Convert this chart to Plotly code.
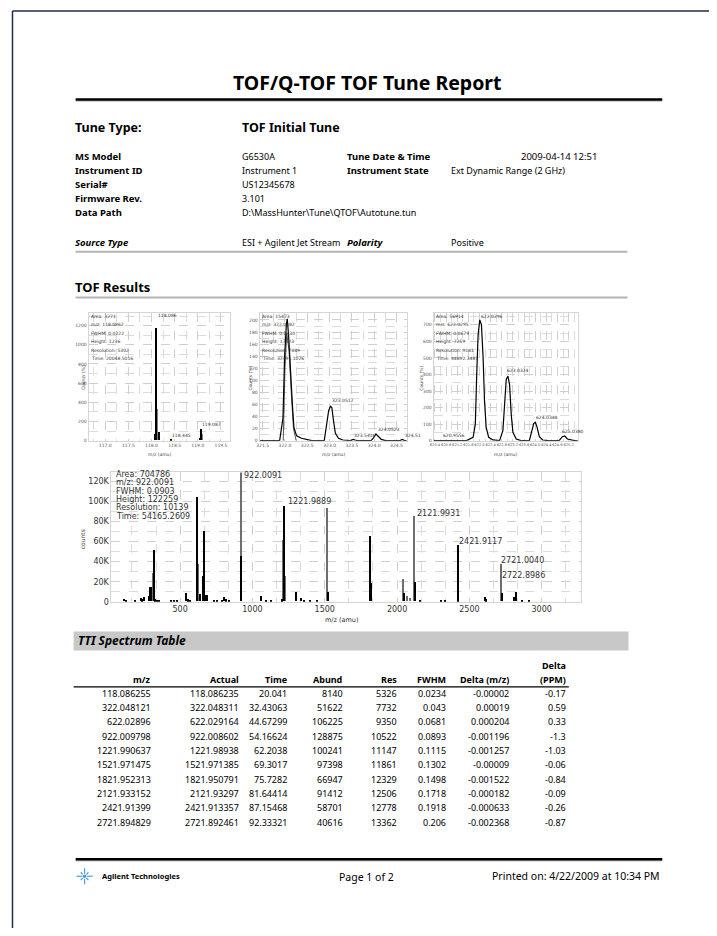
import math
import plotly.graph_objects as go

W, H = 701, 920          # page minus the 8px body margin on each side
OFF = 8
FONT = "Noto Sans"
CFONT = "DejaVu Sans"


def px(x):
    return (x - OFF) / W


def py(y):
    return 1 - (y - OFF) / H


# ---------------- data ----------------
report_title = "TOF/Q-TOF TOF Tune Report"
tune_type = "TOF Initial Tune"
info_labels_left = ["MS Model", "Instrument ID", "Serial#", "Firmware Rev.", "Data Path"]
info_values_left = ["G6530A", "Instrument 1", "US12345678", "3.101",
                    "D:\\MassHunter\\Tune\\QTOF\\Autotune.tun"]
info_labels_right = ["Tune Date & Time", "Instrument State"]
info_values_right = ["2009-04-14 12:51", "Ext Dynamic Range (2 GHz)"]
source_type = "ESI + Agilent Jet Stream"
polarity = "Positive"

# small chart 1 (centroid sticks, m/z 118)
c1_mz_black = [118.065, 118.086, 118.143, 118.42, 119.03, 119.065]
c1_int_black = [70, 1172, 86, 14, 28, 121]
c1_mz_gray = [118.105, 119.085]
c1_int_gray = [328, 69]
c1_yticks = [0, 200, 400, 600, 800, 1000, 1200]
c1_xticks = [117.0, 117.5, 118.0, 118.5, 119.0, 119.5]
c1_info = ["Area: 3271", "m/z: 118.0862", "FWHM: 0.0222", "Height: 1236",
           "Resolution: 5302", "Time: 20048.5016"]
c1_peak_labels = [(118.086, 1305, "118.086"), (118.40, 55, "118.445"), (119.05, 165, "119.087")]

# small chart 2 (profile, m/z 322)
c2_mz = [321.43, 321.88, 321.955, 321.99, 322.03, 322.05, 322.08, 322.12, 322.17, 322.20,
         322.26, 322.37, 322.52, 322.60, 322.88, 322.92, 322.95, 322.98, 323.02, 323.05,
         323.09, 323.13, 323.20, 323.30, 323.47, 323.53, 323.57, 323.62, 323.93, 323.98,
         324.04, 324.10, 324.16, 324.25, 324.58, 324.63, 324.68, 324.73]
c2_int = [0, 0, 38, 137, 192, 202, 175, 110, 55, 22,
          8, 4, 1, 0, 0, 18, 38, 50, 57, 55,
          32, 12, 4, 1, 0, 2, 1, 0, 0, 4,
          11, 6, 2, 0, 0, 2, 0, 0]
c2_mz_b = [321.96, 322.00, 322.04, 322.09, 322.14, 322.19, 322.25]
c2_int_b = [0, 120, 178, 150, 80, 20, 0]
c2_yticks = [0, 20, 40, 60, 80, 100, 120, 140, 160, 180, 200]
c2_xticks = [321.5, 322.0, 322.5, 323.0, 323.5, 324.0, 324.5]
c2_info = ["Area: 15473", "m/z: 322.0482", "FWHM: 0.0430", "Height: 17523",
           "Resolution: 7489", "Time: 32491.1026"]
c2_peak_labels = [(323.0, 66, "323.0512"), (323.5, 8, "323.5416"), (324.03, 19, "324.0523"),
                  (324.65, 8, "324.51")]

# small chart 3 (profile, m/z 622)
c3_mz = [620.35, 621.53, 621.77, 621.85, 621.90, 621.95, 622.01, 622.07, 622.13, 622.18,
         622.24, 622.33, 622.48, 622.72, 622.84, 622.90, 622.96, 623.02, 623.08, 623.14,
         623.20, 623.32, 623.49, 623.79, 623.88, 623.95, 624.01, 624.07, 624.15, 624.27,
         624.45, 624.86, 624.98, 625.06, 625.16, 625.40, 625.53]
c3_int = [0, 0, 20, 100, 400, 640, 730, 700, 500, 240,
          80, 20, 4, 0, 60, 240, 370, 390, 340, 160,
          50, 10, 0, 0, 60, 104, 110, 80, 24, 4,
          0, 0, 24, 28, 10, 0, 0]
c3_yticks = [0, 100, 200, 300, 400, 500, 600, 700]
c3_xticks = [620.4, 620.8, 621.2, 621.6, 622.0, 622.4, 622.8, 623.2, 623.6, 624.0,
             624.4, 624.8, 625.2]
c3_info = ["Area: 56914", "m/z: 622.0295", "FWHM: 0.0679", "Height: 7259",
           "Resolution: 9161", "Time: 44692.3487"]
c3_peak_labels = [(621.99, 752, "622.0296"), (622.93, 425, "623.0324"),
                  (623.95, 140, "624.0348"), (624.88, 56, "625.0380"), (620.6, 30, "620.9556")]

# big spectrum (centroid sticks, counts)
big_mz_black = [118, 130, 190, 230, 240, 255, 285, 293, 299, 322, 330, 345, 360, 440, 460,
                480, 545, 560, 575, 622, 640, 665, 672, 680, 686, 740, 760, 790, 805, 820,
                840, 924, 1060, 1100, 1130, 1205, 1222, 1305, 1340, 1360, 1400, 1450, 1526,
                1819, 1824, 2052, 2126, 2160, 2309, 2332, 2422, 2428, 2612, 2620, 2728, 2815,
                2824, 2868, 2914]
big_int_black = [2500, 1500, 1000, 3000, 2000, 4000, 5000, 14500, 14000, 51622, 2000, 1500,
                 1000, 1000, 1000, 1500, 8000, 2000, 1500, 104000, 7000, 25000, 70000, 6500,
                 6000, 1000, 1500, 1500, 4500, 2000, 1000, 45000, 5000, 1000, 1000, 2000,
                 95000, 9500, 3000, 1000, 1000, 1000, 9000, 65000, 18000, 8000, 19000, 1000,
                 1000, 1000, 56000, 1000, 4000, 2000, 8500, 4000, 9000, 1000, 1000]
big_mz_gray = [318, 627, 922, 1216, 1228, 1517, 1522, 2046, 2075, 2091, 2122, 2722]
big_int_gray = [28000, 37000, 128875, 61000, 25000, 55000, 93000, 22000, 5000, 3000, 85000,
                37000]
big_yticks = [0, 20000, 40000, 60000, 80000, 100000, 120000]
big_yticktext = ["0", "20K", "40K", "60K", "80K", "100K", "120K"]
big_xticks = [500, 1000, 1500, 2000, 2500, 3000]
big_info = ["Area: 704786", "m/z: 922.0091", "FWHM: 0.0903", "Height: 122259",
            "Resolution: 10139", "Time: 54165.2609"]
big_peak_labels = [(928, 126000, "922.0091"), (1230, 100500, "1221.9889"),
                   (2124, 88500, "2121.9931"), (2413, 60000, "2421.9117"),
                   (2708, 41500, "2721.0040"), (2712, 26500, "2722.8986")]

# table
tbl_headers = ["m/z", "Actual", "Time", "Abund", "Res", "FWHM", "Delta (m/z)", "Delta<br>(PPM)"]
tbl_mz = ["118.086255", "322.048121", "622.02896", "922.009798", "1221.990637", "1521.971475",
          "1821.952313", "2121.933152", "2421.91399", "2721.894829"]
tbl_actual = ["118.086235", "322.048311", "622.029164", "922.008602", "1221.98938",
              "1521.971385", "1821.950791", "2121.93297", "2421.913357", "2721.892461"]
tbl_time = ["20.041", "32.43063", "44.67299", "54.16624", "62.2038", "69.3017", "75.7282",
            "81.64414", "87.15468", "92.33321"]
tbl_abund = [8140, 51622, 106225, 128875, 100241, 97398, 66947, 91412, 58701, 40616]
tbl_res = [5326, 7732, 9350, 10522, 11147, 11861, 12329, 12506, 12778, 13362]
tbl_fwhm = ["0.0234", "0.043", "0.0681", "0.0893", "0.1115", "0.1302", "0.1498", "0.1718",
            "0.1918", "0.206"]
tbl_dmz = ["-0.00002", "0.00019", "0.000204", "-0.001196", "-0.001257", "-0.00009",
           "-0.001522", "-0.000182", "-0.000633", "-0.002368"]
tbl_dppm = ["-0.17", "0.59", "0.33", "-1.3", "-1.03", "-0.06", "-0.84", "-0.09", "-0.26",
            "-0.87"]

footer_left = "Agilent Technologies"
footer_mid = "Page 1 of 2"
footer_right = "Printed on: 4/22/2009 at 10:34 PM"

# ---------------- figure ----------------
fig = go.Figure()

fig.add_trace(go.Bar(x=c1_mz_gray, y=c1_int_gray, width=0.022, marker=dict(color="#808080", line=dict(width=0)),
                     xaxis="x", yaxis="y"))
fig.add_trace(go.Bar(x=c1_mz_black, y=c1_int_black, width=0.022, marker=dict(color="#000000", line=dict(width=0)),
                     xaxis="x", yaxis="y"))
fig.add_trace(go.Scatter(x=c2_mz_b, y=c2_int_b, mode="lines", line=dict(color="#555555", width=1),
                         xaxis="x2", yaxis="y2"))
fig.add_trace(go.Scatter(x=c2_mz, y=c2_int, mode="lines", line=dict(color="#000000", width=1.2),
                         xaxis="x2", yaxis="y2"))
fig.add_trace(go.Scatter(x=c3_mz, y=c3_int, mode="lines", line=dict(color="#000000", width=1.2),
                         xaxis="x3", yaxis="y3"))
fig.add_trace(go.Bar(x=big_mz_gray, y=big_int_gray, width=8, marker=dict(color="#6e6e6e", line=dict(width=0)),
                     xaxis="x4", yaxis="y4"))
fig.add_trace(go.Bar(x=big_mz_black, y=big_int_black, width=8, marker=dict(color="#000000", line=dict(width=0)),
                     xaxis="x4", yaxis="y4"))


def axis(domain, rng, tickvals, ticktext=None, minor_dtick=None, size=4.5, anchor=None, color="#555"):
    a = dict(domain=domain, range=rng, tickvals=tickvals, showgrid=True, gridcolor="#cfcfcf",
             griddash="dash", gridwidth=1, zeroline=False, showline=True, linecolor="#d5d5d5",
             mirror=True, ticks="", tickangle=0, tickfont=dict(size=size, family=CFONT, color=color),
             fixedrange=True, anchor=anchor)
    if ticktext is not None:
        a["ticktext"] = ticktext
    if minor_dtick is not None:
        a["minor"] = dict(dtick=minor_dtick, showgrid=True, gridcolor="#dcdcdc", griddash="dash")
    return a


ydom_small = [py(443), py(315)]
fig.update_layout(
    xaxis=axis([px(85), px(227)], [116.64, 119.69], c1_xticks, [f"{v:.1f}" for v in c1_xticks], 0.25, anchor="y"),
    yaxis=axis(ydom_small, [0, 1328], c1_yticks, None, 100, anchor="x"),
    xaxis2=axis([px(257), px(405)], [321.43, 324.73], c2_xticks, [f"{v:.1f}" for v in c2_xticks], 0.25, anchor="y2"),
    yaxis2=axis(ydom_small, [0, 211], c2_yticks, None, 10, anchor="x2"),
    xaxis3=axis([px(432), px(577)], [620.35, 625.53], c3_xticks, [f"{v:.1f}" for v in c3_xticks], 0.2, size=3.6, anchor="y3"),
    yaxis3=axis(ydom_small, [0, 770], c3_yticks, None, 50, anchor="x3"),
    xaxis4=axis([px(108), px(580)], [25, 3270], big_xticks, None, 500 / 3, size=8, anchor="y4", color="#333"),
    yaxis4=axis([py(605), py(475)], [0, 129000], big_yticks, big_yticktext, 10000, size=8, anchor="x4", color="#333"),
)

ann = []


def T(x, y, text, size=10, bold=False, italic=False, anchor="left", color="#000", family=FONT):
    t = text
    if bold:
        t = f"<b>{t}</b>"
    if italic:
        t = f"<i>{t}</i>"
    ann.append(dict(x=px(x), y=py(y), xref="paper", yref="paper", text=t, showarrow=False,
                    xanchor=anchor, yanchor="middle", font=dict(size=size, color=color, family=family)))


def D(xr, yr, x, y, text, size=4.5, color="#333", anchor="left"):
    ann.append(dict(x=x, y=y, xref=xr, yref=yr, text=text, showarrow=False, xanchor=anchor,
                    yanchor="middle", font=dict(size=size, color=color, family=CFONT)))


# header
LX, VX, RLX, RVX = 69, 237, 343, 448
T(366, 83, report_title, size=19.5, bold=True, anchor="center")
T(LX, 128, "Tune Type:", size=12.5, bold=True)
T(VX, 128, tune_type, size=12.5, bold=True)
rows_y = [157, 171, 185, 200, 214]
for i, (lab, val) in enumerate(zip(info_labels_left, info_values_left)):
    T(LX, rows_y[i], lab, size=9.5, bold=True)
    T(VX, rows_y[i], val, size=9)
for i, (lab, val) in enumerate(zip(info_labels_right, info_values_right)):
    T(RLX, rows_y[i], lab, size=9.5, bold=True)
    if i == 0:
        T(598, rows_y[i], val, size=9.5, anchor="right")
    else:
        T(RVX, rows_y[i], val, size=9)
T(LX, 244, "Source Type", size=9.5, bold=True, italic=True)
T(VX, 244, source_type, size=9)
T(RLX, 244, "Polarity", size=9.5, bold=True, italic=True)
T(RVX, 244, polarity, size=9)
T(LX, 289, "TOF Results", size=13, bold=True)

# small chart texts
for (xr, yr, info, xs, ytop, labels) in [
    ("x", "y", c1_info, 116.66, 1328, c1_peak_labels),
    ("x2", "y2", c2_info, 321.45, 211, c2_peak_labels),
    ("x3", "y3", c3_info, 620.38, 770, c3_peak_labels),
]:
    for j, line in enumerate(info):
        ann.append(dict(x=xs, y=ytop * (1 - (0.025 + j * 0.066)), xref=xr, yref=yr, text=line,
                        showarrow=False, xanchor="left", yanchor="middle",
                        font=dict(size=4.5, color="#333", family=CFONT)))
    for (lx, ly, lt) in labels:
        D(xr, yr, lx, ly, lt, size=4.5)

for (cx, title) in [(156, "m/z (amu)"), (331, "m/z (amu)"), (504, "m/z (amu)")]:
    T(cx, 457, title, size=4.5, anchor="center", color="#444", family=CFONT)
for cx in [76, 248, 420]:
    ann.append(dict(x=px(cx), y=py(380), xref="paper", yref="paper", text="Counts (%)",
                    textangle=-90, showarrow=False, font=dict(size=4.5, color="#444", family=CFONT)))

# big chart texts
for j, line in enumerate(big_info):
    D("x4", "y4", 40, 127000 - j * 8300, line, size=8, color="#333")
for (lx, ly, lt) in big_peak_labels:
    D("x4", "y4", lx, ly, lt, size=8, color="#333")
T(340, 623, "m/z (amu)", size=6.5, anchor="center", color="#333", family=CFONT)
ann.append(dict(x=px(73), y=py(542), xref="paper", yref="paper", text="counts", textangle=-90,
                showarrow=False, font=dict(size=6, color="#444", family=CFONT)))

# table
T(72, 644, "TTI Spectrum Table", size=12, bold=True, italic=True)
col_right = [150, 238, 287, 343, 397, 447, 510, 567]
for c, h in enumerate(tbl_headers):
    if "<br>" in h:
        T(col_right[c], 669, "Delta", size=9, bold=True, anchor="right")
        T(col_right[c], 683, "(PPM)", size=9, bold=True, anchor="right")
    else:
        T(col_right[c], 683, h, size=9, bold=True, anchor="right")
cols = [tbl_mz, tbl_actual, tbl_time, [str(v) for v in tbl_abund], [str(v) for v in tbl_res],
        tbl_fwhm, tbl_dmz, tbl_dppm]
for r in range(len(tbl_mz)):
    yy = 697 + r * 14.4
    for c in range(8):
        T(col_right[c], yy, cols[c][r], size=9, anchor="right")

# footer
T(97, 881, "<b>" + footer_left + "</b>", size=7.5)
T(365, 882, footer_mid, size=10.5, anchor="center")
T(662, 881, footer_right, size=10.5, anchor="right")

fig.update_layout(annotations=ann)

shapes = []


def L(x0, y0, x1, y1, color="#000", width=1):
    shapes.append(dict(type="line", xref="paper", yref="paper", x0=px(x0), y0=py(y0), x1=px(x1),
                       y1=py(y1), line=dict(color=color, width=width)))


# page border
L(8.5, 11, 717, 11, "#1d2d4a", 1.5)
L(8.5, 11, 8.5, 936, "#1d2d4a", 1.5)
# title rule
L(72, 101.5, 662, 101.5, "#a0a0a0", 1)
L(72, 100, 662, 100, "#000", 2.5)
# section rules
L(72, 253, 627, 253, "#b4b4b4", 2)
L(72, 299, 627, 299, "#b4b4b4", 2)
# TTI band
shapes.append(dict(type="rect", xref="paper", yref="paper", x0=px(70), x1=px(628), y0=py(654),
                   y1=py(635), fillcolor="#c8c8c8", line=dict(width=0), layer="below"))
# table header rule
L(70, 690.5, 568, 690.5, "#000", 1.2)
# footer rule
L(72, 865.5, 662, 865.5, "#a0a0a0", 1)
L(72, 864, 662, 864, "#000", 2.5)
# Agilent spark logo
cx0, cy0 = 81, 881
for k in range(8):
    ang = k * math.pi / 4
    r1, r2 = 2.5, (8 if k % 2 == 0 else 5.5)
    L(cx0 + r1 * math.cos(ang), cy0 + r1 * math.sin(ang), cx0 + r2 * math.cos(ang),
      cy0 + r2 * math.sin(ang), "#4b9be0", 1.2)
shapes.append(dict(type="circle", xref="paper", yref="paper", x0=px(cx0 - 1.8), x1=px(cx0 + 1.8),
                   y0=py(cy0 + 1.8), y1=py(cy0 - 1.8), fillcolor="#4b9be0", line=dict(width=0)))

fig.update_layout(shapes=shapes)

fig.update_layout(
    width=W, height=H, margin=dict(l=0, r=0, t=0, b=0),
    paper_bgcolor="#ffffff", plot_bgcolor="#ffffff",
    showlegend=False, barmode="overlay", bargap=0,
)

fig.write_html("out.html")
